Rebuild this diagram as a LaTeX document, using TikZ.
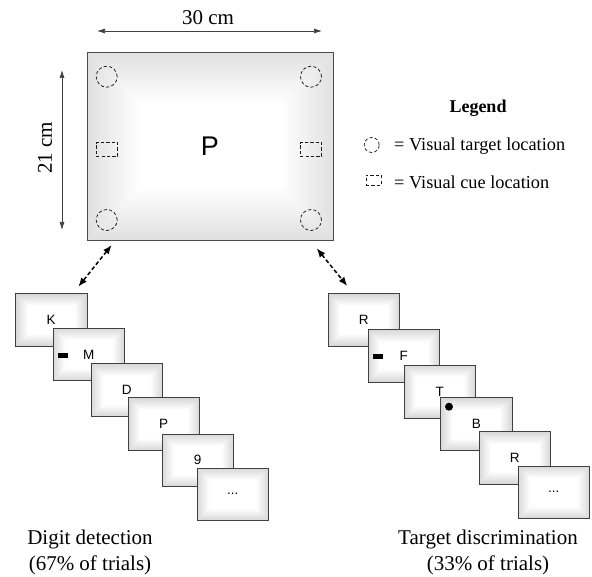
\documentclass[tikz,border=0pt]{standalone}
\usepackage{fontspec}
\setmainfont{Liberation Serif}
\setsansfont{Liberation Sans}
\usetikzlibrary{calc,arrows.meta}
\tikzset{
  bevel/.style n args={2}{path picture={%
    \foreach \i in {0,...,#1}{%
      \pgfmathsetmacro\c{#2*(1-\i/#1)}%
      \fill[black!\c] ($(path picture bounding box.south west)+(\i*1pt,\i*1pt)$) rectangle ($(path picture bounding box.north east)-(\i*1pt,\i*1pt)$);}}},
  screen/.style={draw=black!75, line width=1pt, minimum width=71.5pt, minimum height=52.5pt,
    inner sep=0pt, anchor=north west, bevel={12}{15},
    font=\sffamily\fontsize{13.5}{15}\selectfont},
  mainbox/.style={draw=black!70, line width=1pt, minimum width=246pt, minimum height=188pt,
    inner sep=0pt, anchor=north west, bevel={52}{12}},
  tgt/.style={circle, draw=black!90, line width=0.75pt, dash pattern=on 3.2pt off 2.2pt, minimum size=#1, inner sep=0pt},
  cue/.style n args={2}{rectangle, draw=black!90, line width=0.75pt, dash pattern=on 3.2pt off 2.2pt, minimum width=#1, minimum height=#2, inner sep=0pt},
  dim/.style={draw=black!75, line width=0.7pt, {Latex[length=8pt,width=5pt]}-{Latex[length=8pt,width=5pt]}},
  link/.style={draw=black, line width=1.5pt, dash pattern=on 4pt off 2.5pt, {Latex[length=9pt,width=7pt]}-{Latex[length=9pt,width=7pt]}},
  big/.style={font=\fontsize{21}{26}\selectfont},
  leg/.style={font=\fontsize{18.3}{22}\selectfont}
}
\begin{document}
\begin{tikzpicture}[x=1pt,y=-1pt]
\useasboundingbox (0,0) rectangle (592,577);
% main surface
\node[mainbox] (main) at (87,52) {};
\node[font=\sffamily\fontsize{27}{30}\selectfont] (P) at (210,146) {P};
\node[tgt=21pt] (t1) at (106.7,76.7) {};
\node[tgt=21pt] (t2) at (311,76.7) {};
\node[tgt=21pt] (t3) at (106.7,220) {};
\node[tgt=21pt] (t4) at (311,220) {};
\node[cue={21.7pt}{13.3pt}] (q1) at (107,149.3) {};
\node[cue={21.7pt}{13.3pt}] (q2) at (311,149.3) {};
% dimensions
\coordinate (wa) at (97,31); \coordinate (wb) at (322,31);
\draw[dim] (wa) -- (wb);
\node[big] (wlab) at (208,18) {30 cm};
\coordinate (ha) at (62,70); \coordinate (hb) at (62,230);
\draw[dim] (ha) -- (hb);
\node[big, rotate=90] (hlab) at (45,148) {21 cm};
% legend
\node[font=\bfseries\fontsize{18}{22}\selectfont] (legend) at (478,108) {Legend};
\node[tgt=15pt] (lt) at (371.7,145) {};
\node[leg, anchor=west, inner sep=0pt] (ltx) at (394,146) {= Visual target location};
\node[cue={15pt}{10pt}] (lq) at (373.5,180) {};
\node[leg, anchor=west, inner sep=0pt] (lqx) at (394,182) {= Visual cue location};
% left sequence
\node[screen] (L1) at (15,293.5) {K};
\node[screen] (L2) at (52.5,328) {M};
\fill ($(L2.west)+(5.5,-1.5)$) rectangle ++(10,4.5);
\node[screen] (L3) at (90.5,363.5) {D};
\node[screen] (L4) at (127.5,397.5) {P};
\node[screen] (L5) at (161.5,433.5) {9};
\node[screen] (L6) at (196.5,467.5) {...};
% right sequence
\node[screen] (R1) at (327.5,293.5) {R};
\node[screen] (R2) at (367.5,329.5) {F};
\fill ($(R2.west)+(5.2,-1.8)$) rectangle ++(10,4.5);
\node[screen] (R3) at (403.5,365) {T};
\node[screen] (R4) at (440,397.5) {B};
\fill ($(R4.north west)+(9,9.2)$) circle[radius=4pt];
\node[screen] (R5) at (478.5,431) {R};
\node[screen] (R6) at (517.5,465.5) {...};
% links
\coordinate (la) at (111.7,245); \coordinate (lb) at (78.3,286.7);
\draw[link] (la) -- (lb);
\coordinate (ra) at (316.7,248.3); \coordinate (rb) at (347.3,286);
\draw[link] (ra) -- (rb);
% captions
\node[big, align=center] (capL) at (90,552) {Digit detection\\(67\% of trials)};
\node[big, align=center] (capR) at (488,552) {Target discrimination\\(33\% of trials)};
\end{tikzpicture}
\end{document}
